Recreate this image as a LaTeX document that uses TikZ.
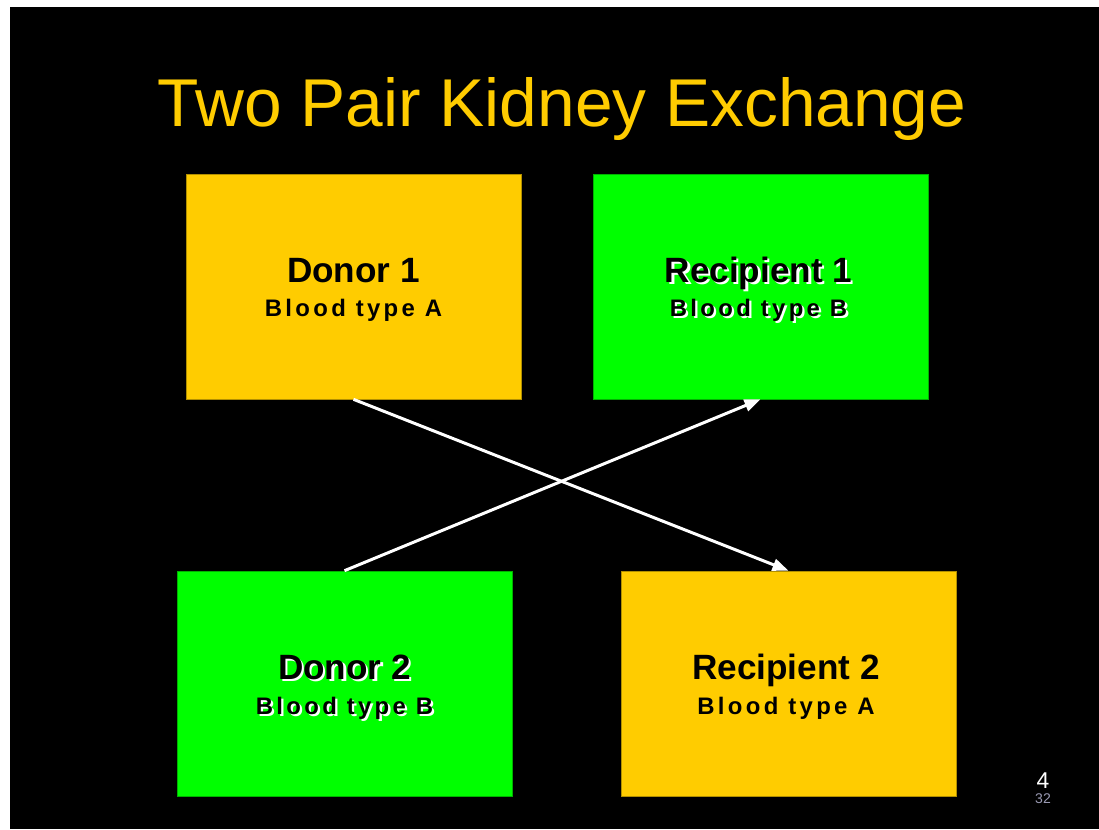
\documentclass[tikz,border=0pt]{standalone}
\usepackage{fontspec}
\setmainfont{Liberation Sans}
\usepackage{tikz}
\usetikzlibrary{arrows.meta}
\definecolor{slideorange}{HTML}{FFCC00}
\definecolor{slidegreen}{HTML}{00FF00}
\definecolor{pagegray}{rgb}{0.6,0.6,0.7}
\newcommand{\glow}[1]{\makebox[0pt][l]{\hspace*{1.3pt}\raisebox{-1.3pt}{\color{white}#1}}#1}

\begin{document}
\begin{tikzpicture}[x=0.02cm, y=-0.02cm,
    every node/.style={inner sep=0pt},
    pairbox/.style={shape=rectangle, minimum width=6.7cm, minimum height=4.5cm, line width=0.4pt},
    donorA/.style={pairbox, fill=slideorange, draw=slideorange!70!black},
    donorB/.style={pairbox, fill=slidegreen, draw=slidegreen!70!black},
    who/.style={anchor=base, text=black, font=\bfseries\fontsize{20}{24}\selectfont},
    blood/.style={anchor=base, text=black, font=\bfseries\fontsize{13.6}{16}\selectfont\addfontfeature{LetterSpace=14}},
    gift/.style={draw=white, line width=1.7pt, -{Triangle[length=0.32cm, width=0.24cm]}}]
\useasboundingbox (0,0) rectangle (1099,829);
\fill [white] (0,0) rectangle (1099,829);
\fill [black] (10,7) rectangle (1099,829);

\node [anchor=base, text=slideorange, font=\fontsize{38.5}{44}\selectfont] (title) at (562,126) {Two Pair Kidney Exchange};

% the four boxes
\node [donorA] (D1) at (353.5,286.5) {};
\node [donorB] (R1) at (760.5,286.5) {};
\node [donorB] (D2) at (344.5,683.5) {};
\node [donorA] (R2) at (788.5,683.5) {};

\node [who] (D1a) at (353.5,282) {Donor 1};
\node [blood] (D1b) at (353.5,316) {Blood type A};
\node [who] (R1a) at (758.5,282) {\glow{Recipient 1}};
\node [blood] (R1b) at (758.5,316) {\glow{Blood type B}};
\node [who] (D2a) at (344.5,679) {\glow{Donor 2}};
\node [blood] (D2b) at (344.5,714) {\glow{Blood type B}};
\node [who] (R2a) at (786,679) {Recipient 2};
\node [blood] (R2b) at (786,714) {Blood type A};

\draw [gift] (D1.south) -- (R2.north);
\draw [gift] (D2.north) -- (R1.south);

\node [anchor=base, text=white, font=\fontsize{13}{14}\selectfont] (page) at (1043,788) {4};
\node [anchor=base, text=pagegray, font=\fontsize{8}{9}\selectfont] (total) at (1043,803) {32};
\end{tikzpicture}
\end{document}
